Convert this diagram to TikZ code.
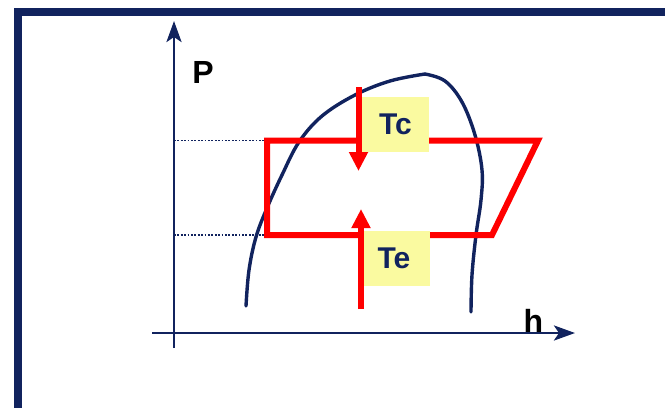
\documentclass[tikz,border=0pt]{standalone}
\usepackage{fontspec}
\setmainfont{Liberation Sans}
\usetikzlibrary{arrows.meta}
\definecolor{navy}{HTML}{11235E}
\definecolor{boxyellow}{HTML}{FAFAA0}
\definecolor{cyclered}{HTML}{FF0000}
\tikzset{
  axisline/.style={navy, line width=2.8pt, -{Stealth[length=21pt,width=15pt,inset=5pt]}},
  guide/.style={navy, line width=1.8pt, dash pattern=on 1.8pt off 1.6pt},
  cycle/.style={cyclered, line width=6pt, line join=miter},
  tempbox/.style={fill=boxyellow, minimum height=55pt, inner sep=0pt,
                  font=\bfseries\fontsize{30}{32}\selectfont, text=navy},
  tarrow/.style={cyclered, line width=6pt, -{Triangle[length=19pt,width=18pt]}},
  axlabel/.style={font=\bfseries\fontsize{32}{34}\selectfont, text=black, inner sep=0pt},
  dome/.style={navy, line width=3.4pt, line cap=round}
}
\begin{document}
\begin{tikzpicture}[x=1pt,y=-1pt]
\useasboundingbox (0,0) rectangle (665,408);
\fill[white] (0,0) rectangle (665,408);
% frame
\fill[navy] (14,8) rectangle (665,16);
\fill[navy] (14,8) rectangle (22,408);
% axes
\coordinate (yb) at (174,348);
\coordinate (yt) at (174,21);
\coordinate (xl) at (152,333);
\coordinate (xr) at (575,333);
\draw[axisline] (yb) -- (yt);
\draw[axisline] (xl) -- (xr);
\node[axlabel, anchor=base] (P) at (203,83) {P};
\node[axlabel, anchor=base] (h) at (533.5,332) {h};
% cycle corners
\coordinate (c1) at (267,140.5);
\coordinate (c2) at (538,140.5);
\coordinate (c3) at (492,235);
\coordinate (c4) at (267,235);
\coordinate (a1) at (174,140.5);
\coordinate (a2) at (174,235);
\draw[guide] (a1) -- (c1);
\draw[guide] (a2) -- (c4);
% dome
\draw[dome] plot[smooth, tension=0.6] coordinates {(246,306) (249,270) (256,237) (267,208) (282,175) (299,142) (322,116) (355,95) (390,81) (425,74)};
\draw[dome] plot[smooth, tension=0.6] coordinates {(425,74) (445,81) (462,102) (475,135) (482,170) (481,200) (476,235) (472,275) (471,312)};
% cycle
\draw[cycle] (c1) -- (c2) -- (c3) -- (c4) -- cycle;
% boxes
\node[tempbox, minimum width=67pt] (Tc) at (395.5,124.5) {Tc};
\node[tempbox, minimum width=72pt] (Te) at (394,258.5) {Te};
% arrows
\coordinate (d0) at (358.5,87);
\coordinate (d1) at (358.5,171);
\coordinate (u0) at (361,309);
\coordinate (u1) at (361,209);
\draw[tarrow] (d0) -- (d1);
\draw[tarrow] (u0) -- (u1);
\end{tikzpicture}
\end{document}
